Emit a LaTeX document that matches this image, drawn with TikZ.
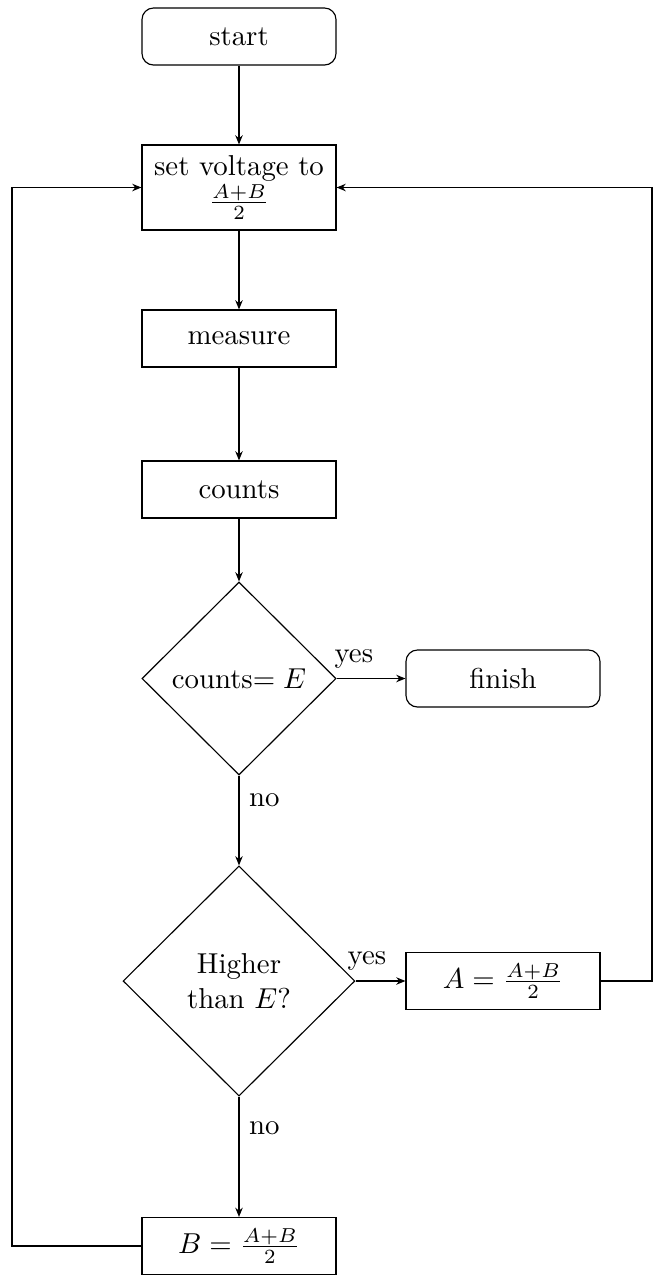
\documentclass[tikz,border=0pt]{standalone}
\usetikzlibrary{shapes.geometric,arrows.meta}
\begin{document}
\begin{tikzpicture}[x=0.3472pt,y=-0.3472pt,
  every node/.style={font=\normalsize},
  proc/.style={draw,rectangle,minimum width=67.36pt,minimum height=19.8pt,inner sep=2pt,align=center},
  term/.style={proc,rounded corners=4pt},
  dec/.style={draw,diamond,inner sep=0pt,align=center},
  arr/.style={-{Stealth[length=3.2pt,width=2.6pt]}},
  lbl/.style={inner sep=3.33pt}]
\useasboundingbox (0,0) rectangle (653,1282);
\node[proc,minimum height=29.5pt,inner sep=1pt] (set) at (239,187.5) {set voltage to\\[0pt]$\frac{A+B}{2}$};
\node[term] (start) at (239,36.5) {start};
\node[proc] (measure) at (239,338.5) {measure};
\node[proc] (counts) at (239,489.5) {counts};
\node[dec,minimum width=67.4pt,minimum height=67pt] (d1) at (239,678.5) {counts$=E$};
\node[term] (finish) at (503,678.5) {finish};
\node[dec,minimum width=80.5pt,minimum height=79.9pt] (d2) at (239,981) {Higher\\than $E$?};
\node[proc] (A) at (503,981) {$A=\frac{A+B}{2}$};
\node[proc] (B) at (239,1246) {$B=\frac{A+B}{2}$};
\coordinate (lc) at (12,1246);
\coordinate (rc) at (652,981);
\draw[arr] (start) -- (set);
\draw[arr] (set) -- (measure);
\draw[arr] (measure) -- (counts);
\draw[arr] (counts) -- (d1);
\draw[arr] (d1.east) -- node[lbl,above,pos=0.25]{yes} (finish.west);
\draw[arr] (d1.south) -- node[lbl,right,pos=0.27]{no} (d2.north);
\draw[arr] (d2.east) -- node[lbl,above,pos=0.23]{yes} (A.west);
\draw[arr] (d2.south) -- node[lbl,right,pos=0.26]{no} (B.north);
\draw[arr] (B.west) -- (lc) |- (set.west);
\draw[arr] (A.east) -- (rc) |- (set.east);
\end{tikzpicture}
\end{document}
